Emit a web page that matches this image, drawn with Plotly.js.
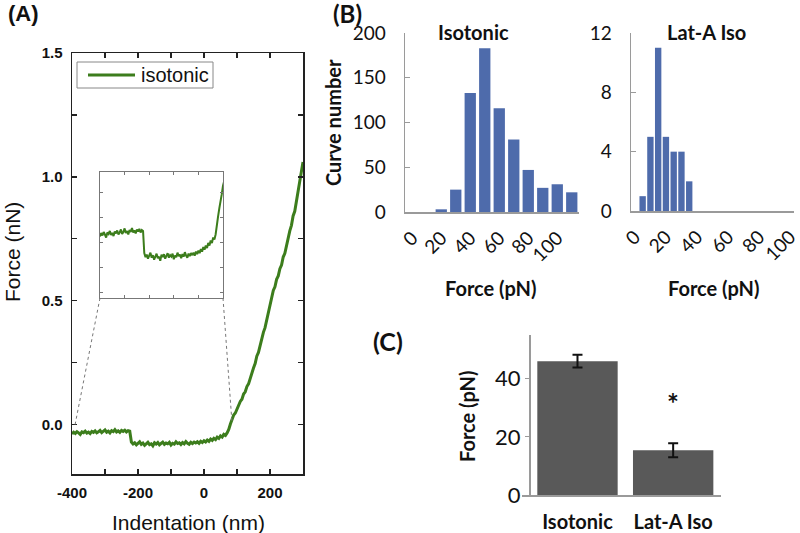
<!DOCTYPE html>
<html>
<head>
<meta charset="utf-8">
<script src="https://cdn.plot.ly/plotly-3.0.1.min.js"></script>
<style>
  html, body { margin: 0; padding: 0; background: #fff; }
  #chart { width: 800px; height: 533px; }
</style>
</head>
<body>
<div id="chart"></div>
<script>
// Panel A: force vs indentation curve (nm, nN), every 5 nm
const indentation = [
  -400, -395, -390, -385, -380, -375, -370, -365, -360, -355,
  -350, -345, -340, -335, -330, -325, -320, -315, -310, -305,
  -300, -295, -290, -285, -280, -275, -270, -265, -260, -255,
  -250, -245, -240, -235, -230, -225, -220, -215, -210, -205,
  -200, -195, -190, -185, -180, -175, -170, -165, -160, -155,
  -150, -145, -140, -135, -130, -125, -120, -115, -110, -105,
  -100, -95, -90, -85, -80, -75, -70, -65, -60, -55,
  -50, -45, -40, -35, -30, -25, -20, -15, -10, -5,
  0, 5, 10, 15, 20, 25, 30, 35, 40, 45,
  50, 55, 60, 65, 70, 75, 80, 85, 90, 95,
  100, 105, 110, 115, 120, 125, 130, 135, 140, 145,
  150, 155, 160, 165, 170, 175, 180, 185, 190, 195,
  200, 205, 210, 215, 220, 225, 230, 235, 240, 245,
  250, 255, 260, 265, 270, 275, 280, 285, 290, 295,
  300
];
const forceNN = [
  -0.038, -0.031, -0.036, -0.029, -0.034, -0.040, -0.030, -0.033, -0.027, -0.035,
  -0.031, -0.037, -0.028, -0.032, -0.026, -0.034, -0.030, -0.024, -0.033, -0.029,
  -0.022, -0.031, -0.027, -0.034, -0.025, -0.029, -0.021, -0.030, -0.026, -0.032,
  -0.024, -0.028, -0.023, -0.030, -0.025, -0.027, -0.071, -0.079, -0.074, -0.082,
  -0.076, -0.070, -0.080, -0.075, -0.084, -0.077, -0.072, -0.081, -0.078, -0.086,
  -0.074, -0.079, -0.073, -0.082, -0.076, -0.071, -0.080, -0.075, -0.078, -0.072,
  -0.083, -0.076, -0.079, -0.070, -0.077, -0.074, -0.081, -0.073, -0.078, -0.069,
  -0.076, -0.080, -0.072, -0.077, -0.071, -0.075, -0.070, -0.076, -0.068, -0.073,
  -0.066, -0.071, -0.063, -0.068, -0.059, -0.064, -0.056, -0.061, -0.051, -0.056,
  -0.046, -0.051, -0.040, -0.044, -0.034, -0.020, 0.002, 0.018, 0.038, 0.046,
  0.063, 0.072, 0.093, 0.102, 0.123, 0.132, 0.153, 0.164, 0.188, 0.201,
  0.228, 0.246, 0.276, 0.291, 0.322, 0.339, 0.372, 0.391, 0.424, 0.448,
  0.489, 0.511, 0.541, 0.556, 0.586, 0.600, 0.629, 0.644, 0.676, 0.691,
  0.724, 0.744, 0.782, 0.804, 0.842, 0.861, 0.899, 0.931, 0.984, 1.016,
  1.060
];

// Panel B: histograms of rupture force (pN)
const isoBins = [0, 10, 20, 30, 40, 50, 60, 70, 80, 90, 100, 110];
const isoCounts = [0, 0, 3, 25, 133, 183, 116, 81, 47, 27, 31, 22];
const latBins = [5, 10, 15, 20, 25, 30, 35];
const latCounts = [1, 5, 11, 5, 4, 4, 2];
const histTicks = [0, 20, 40, 60, 80, 100];

// Panel C: mean force with error bars
const groups = ["Isotonic", "Lat-A Iso"];
const meanForce = [46.0, 15.4];
const errForce = [2.2, 2.4];

const arial = "Liberation Sans, Arial, sans-serif";
const calib = "Lato, Calibri, sans-serif";
const green = "#3c7d1c";
const blue = "#4e6bab";
const gray = "#9a9a9a";

// page is 800x533, convert pixel positions to paper fractions
const px = v => v / 800;
const py = v => 1 - v / 533;

const traces = [
  {
    x: indentation, y: forceNN, type: "scatter", mode: "lines",
    name: "isotonic", line: { color: green, width: 3 },
    xaxis: "x", yaxis: "y"
  },
  {
    x: indentation, y: forceNN, type: "scatter", mode: "lines",
    line: { color: green, width: 2 },
    xaxis: "x2", yaxis: "y2"
  },
  {
    x: isoBins, y: isoCounts, type: "bar", width: 7.8,
    marker: { color: blue },
    xaxis: "x3", yaxis: "y3"
  },
  {
    x: latBins, y: latCounts, type: "bar", width: 4.1,
    marker: { color: blue },
    xaxis: "x4", yaxis: "y4"
  },
  {
    x: groups, y: meanForce, type: "bar", width: 0.84,
    marker: { color: "#595959" },
    error_y: { type: "data", array: errForce, color: "#111", thickness: 2, width: 5 },
    xaxis: "x5", yaxis: "y5"
  }
];

const frameA = {
  showline: true, linecolor: "#222", linewidth: 1.5, mirror: "ticks",
  ticks: "inside", ticklen: 5, tickcolor: "#222", tickwidth: 1.5,
  showgrid: false, zeroline: false,
  tickfont: { family: arial, size: 15, color: "#111", weight: "bold" }
};
const excelAxis = {
  showline: true, linecolor: gray, linewidth: 1.5,
  showgrid: false, zeroline: false, ticklabeloverflow: "allow",
  tickfont: { family: calib, size: 19, color: "#111" }
};

const layout = {
  width: 800, height: 533,
  margin: { l: 0, r: 0, t: 0, b: 0 },
  paper_bgcolor: "#fff", plot_bgcolor: "rgba(0,0,0,0)",
  showlegend: false,
  xaxis: Object.assign({}, frameA, {
    domain: [px(72), px(303)], range: [-400, 300], anchor: "y",
    tickvals: [-400, -300, -200, -100, 0, 100, 200, 300],
    ticktext: ["-400", "", "-200", "", "0", "", "200", ""],
    ticklabelstandoff: 4
  }),
  yaxis: Object.assign({}, frameA, {
    domain: [1 - 474 / 533, 1 - 53 / 533], range: [-0.2, 1.5], anchor: "x",
    tickvals: [0, 0.25, 0.5, 0.75, 1.0, 1.25, 1.5],
    ticktext: ["0.0", "", "0.5", "", "1.0", "", "1.5"],
    ticklabelstandoff: 5
  }),
  xaxis2: {
    domain: [px(100), px(223)], range: [-400, 100], anchor: "y2",
    showline: true, linecolor: "#777", linewidth: 1, mirror: "ticks",
    ticks: "inside", ticklen: 3, tickcolor: "#777", dtick: 100, tick0: 0,
    showticklabels: false, showgrid: false, zeroline: false
  },
  yaxis2: {
    domain: [1 - 298 / 533, 1 - 172 / 533], range: [-0.16, 0.09], anchor: "x2",
    showline: true, linecolor: "#777", linewidth: 1, mirror: "ticks",
    ticks: "inside", ticklen: 3, tickcolor: "#777", dtick: 0.05, tick0: 0,
    showticklabels: false, showgrid: false, zeroline: false
  },
  xaxis3: Object.assign({}, excelAxis, {
    domain: [px(405), px(579)], range: [-5, 115], anchor: "y3",
    tickvals: histTicks, tickangle: -45, ticks: "", ticklabelstandoff: 6
  }),
  yaxis3: Object.assign({}, excelAxis, {
    domain: [1 - 212 / 533, 1 - 33 / 533], range: [0, 200], anchor: "x3",
    dtick: 50, ticks: "inside", ticklen: 5, tickcolor: gray, ticklabelstandoff: 14
  }),
  xaxis4: Object.assign({}, excelAxis, {
    domain: [px(631), px(794)], range: [-2.5, 102.5], anchor: "y4",
    tickvals: histTicks, tickangle: -45, ticks: "", ticklabelstandoff: 6
  }),
  yaxis4: Object.assign({}, excelAxis, {
    domain: [1 - 211 / 533, 1 - 33 / 533], range: [0, 12], anchor: "x4",
    dtick: 4, ticks: "inside", ticklen: 5, tickcolor: gray, ticklabelstandoff: 14
  }),
  xaxis5: Object.assign({}, excelAxis, {
    domain: [px(522), px(721)], range: [-0.58, 1.5], anchor: "y5",
    type: "category", ticks: "", ticklabelstandoff: 8,
    tickfont: { family: calib, size: 20, color: "#111", weight: "bold" }
  }),
  yaxis5: Object.assign({}, excelAxis, {
    domain: [1 - 495 / 533, 1 - 335 / 533], range: [0, 55],
    anchor: "free", position: px(529),
    tickvals: [0, 20, 40], ticks: "outside", ticklen: 4, tickcolor: gray,
    tickfont: { family: calib, size: 22, color: "#111" }
  }),
  shapes: [
    // zoom guides from the inset down to the curve
    { type: "line", xref: "paper", yref: "paper",
      x0: px(100), y0: py(298), x1: px(75), y1: py(425),
      line: { color: "#777", width: 1, dash: "dot" } },
    { type: "line", xref: "paper", yref: "paper",
      x0: px(223), y0: py(298), x1: px(232), y1: py(423),
      line: { color: "#777", width: 1, dash: "dot" } },
    // legend box for panel A
    { type: "rect", xref: "paper", yref: "paper",
      x0: px(77), y0: py(88), x1: px(213), y1: py(62),
      fillcolor: "#fff", line: { color: "#888", width: 1 } },
    { type: "line", xref: "paper", yref: "paper",
      x0: px(88), y0: py(75), x1: px(135), y1: py(75),
      line: { color: green, width: 3 } }
  ],
  annotations: [
    { text: "isotonic", x: px(139), y: py(75), xanchor: "left", font: { family: arial, size: 20, color: "#111" } },
    { text: "<b>(A)</b>", x: px(23), y: py(14), font: { family: arial, size: 22, color: "#111" } },
    { text: "Force (nN)", x: px(12), y: py(252), textangle: -90, font: { family: arial, size: 21, color: "#111" } },
    { text: "Indentation (nm)", x: px(188), y: py(522), font: { family: arial, size: 21, color: "#111" } },
    { text: "<b>(B)</b>", x: px(347), y: py(13), font: { family: calib, size: 24, color: "#111" } },
    { text: "<b>Curve number</b>", x: px(333), y: py(123), textangle: -90, font: { family: calib, size: 20, color: "#111" } },
    { text: "<b>Isotonic</b>", x: px(473), y: py(32), font: { family: calib, size: 20, color: "#111" } },
    { text: "<b>Lat-A Iso</b>", x: px(706), y: py(32), font: { family: calib, size: 20, color: "#111" } },
    { text: "<b>Force (pN)</b>", x: px(490), y: py(288), font: { family: calib, size: 20, color: "#111" } },
    { text: "<b>Force (pN)</b>", x: px(713), y: py(288), font: { family: calib, size: 20, color: "#111" } },
    { text: "<b>(C)</b>", x: px(388), y: py(341), font: { family: calib, size: 25, color: "#111" } },
    { text: "<b>Force (pN)</b>", x: px(467), y: py(417), textangle: -90, font: { family: calib, size: 20, color: "#111" } },
    { text: "<b>*</b>", x: px(673), y: py(403), font: { family: calib, size: 28, color: "#111" } }
  ].map(a => Object.assign({ xref: "paper", yref: "paper", showarrow: false, xanchor: "center", yanchor: "middle" }, a))
};

Plotly.newPlot("chart", traces, layout, { displayModeBar: false, staticPlot: true });
</script>
</body>
</html>
